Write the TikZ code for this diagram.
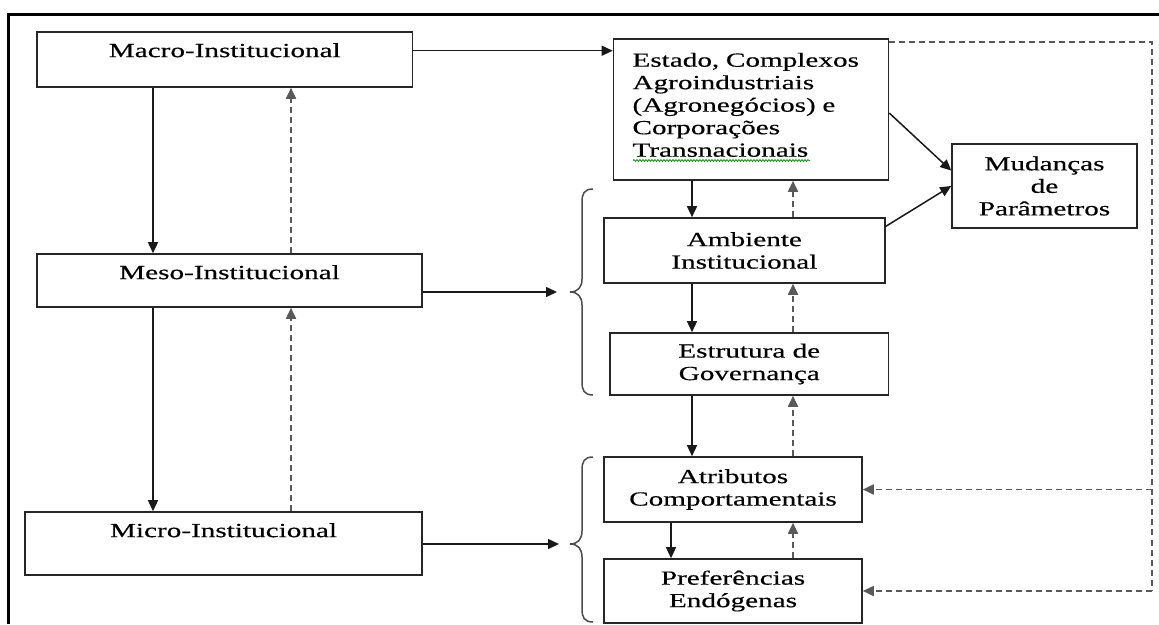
\documentclass[tikz,border=0pt]{standalone}
\usepackage{fontspec}
\setmainfont{Liberation Serif}[FakeStretch=1.46,FakeBold=0.4]
\usetikzlibrary{arrows.meta,calc,decorations.pathmorphing}
\newcommand{\dfont}{\fontsize{20pt}{22.5pt}\selectfont}
\begin{document}
\begin{tikzpicture}[x=1pt,y=-1pt,
  box/.style={draw=black!85, line width=1.6pt, inner sep=0pt, font=\dfont, align=center},
  arr/.style={draw=black!90, line width=1.5pt, -{Triangle[length=11pt,width=10pt]}},
  darr/.style={draw=black!65, line width=1.8pt, dash pattern=on 6pt off 4pt, -{Triangle[length=11pt,width=10pt]}},
  dsh/.style={draw=black!65, line width=1.8pt, dash pattern=on 6pt off 4pt},
  bracesty/.style={draw=black!70, line width=1.5pt}]
\useasboundingbox (0,0) rectangle (1159,624);
% frame
\draw[line width=3pt] (1159,14) -- (8,14) -- (8,624);
% left column
\node[box, minimum width=375.5pt, minimum height=55pt, text depth=18.7pt] (macro) at (224.75,59.5) {Macro-Institucional};
\node[box, minimum width=385pt, minimum height=53pt, text depth=16.7pt] (meso) at (229.5,280.5) {Meso-Institucional};
\node[box, minimum width=397pt, minimum height=63pt, text depth=26.7pt] (micro) at (223.5,543.5) {Micro-Institucional};
% right column
\node[box, text width=237pt, inner xsep=19pt, align=left, minimum width=275pt, minimum height=141pt] (estado) at (751,109.5)
  {Estado, Complexos\\ Agroindustriais\\ (Agronegócios) e\\ Corporações\\ Transnacionais\\[-13pt]\mbox{}};
\draw[green!60!black, line width=0.8pt, decorate, decoration={snake, segment length=3pt, amplitude=0.9pt}] (633,160.5) -- (810,160.5);
\node[box, minimum width=185pt, minimum height=84pt] (mud) at (1044.5,186) {Mudanças\\de\\Parâmetros};
\node[box, minimum width=280.7pt, minimum height=65pt] (amb) at (744.35,250.5) {Ambiente\\Institucional};
\node[box, minimum width=278.5pt, minimum height=62pt] (est) at (749.25,364) {Estrutura de\\Governança};
\node[box, minimum width=258pt, minimum height=65pt] (atr) at (733,489.5) {Atributos\\Comportamentais};
\node[box, minimum width=258pt, minimum height=64pt] (pref) at (733,591) {Preferências\\Endógenas};
% helper coordinates
\coordinate (colA) at (153,0);
\coordinate (colB) at (291,0);
\coordinate (colC) at (692,0);
\coordinate (colD) at (793,0);
\coordinate (colE) at (671,0);
\coordinate (rc) at (1152,0);
\coordinate (b1in) at (557,292);
\coordinate (b2in) at (559,544);
% braces
\draw[bracesty] (593,189) .. controls (584,189) and (582,194) .. (582,202) -- (582,279)
  .. controls (582,287) and (578,292) .. (570,292) .. controls (578,292) and (582,297) .. (582,305)
  -- (582,382) .. controls (582,390) and (584,395) .. (593,395);
\draw[bracesty] (593,457) .. controls (584,457) and (582,462) .. (582,470) -- (582,531)
  .. controls (582,539) and (578,544) .. (570,544) .. controls (578,544) and (582,549) .. (582,557)
  -- (582,609) .. controls (582,617) and (584,622) .. (593,622);
% left connectors
\draw[arr] (macro.south -| colA) -- (meso.north -| colA);
\draw[darr] (meso.north -| colB) -- (macro.south -| colB);
\draw[arr] (meso.south -| colA) -- (micro.north -| colA);
\draw[darr] (micro.north -| colB) -- (meso.south -| colB);
\draw[arr] ($(macro.north east)!.345!(macro.south east)$) coordinate (m1) -- (estado.west |- m1);
\draw[arr] (meso.east |- b1in) -- (b1in);
\draw[arr] (micro.east |- b2in) -- (b2in);
% right connectors
\draw[arr] (estado.south -| colC) -- (amb.north -| colC);
\draw[darr] (amb.north -| colD) -- (estado.south -| colD);
\draw[arr] (amb.south -| colC) -- (est.north -| colC);
\draw[darr] (est.north -| colD) -- (amb.south -| colD);
\draw[arr] (est.south -| colC) -- (atr.north -| colC);
\draw[darr] (atr.north -| colD) -- (est.south -| colD);
\draw[arr] (atr.south -| colE) -- (pref.north -| colE);
\draw[darr] (pref.north -| colD) -- (atr.south -| colD);
\draw[arr] ($(estado.north east)!.525!(estado.south east)$) -- ($(mud.north west)!.32!(mud.south west)$);
\draw[arr] ($(amb.north east)!.14!(amb.south east)$) -- ($(mud.north west)!.5!(mud.south west)$);
\draw[dsh] ($(estado.north east)!.028!(estado.south east)$) coordinate (e0) -| (pref.east -| rc);
\draw[darr] (atr.east -| rc) -- (atr.east);
\draw[darr] (pref.east -| rc) -- (pref.east);
\end{tikzpicture}
\end{document}
